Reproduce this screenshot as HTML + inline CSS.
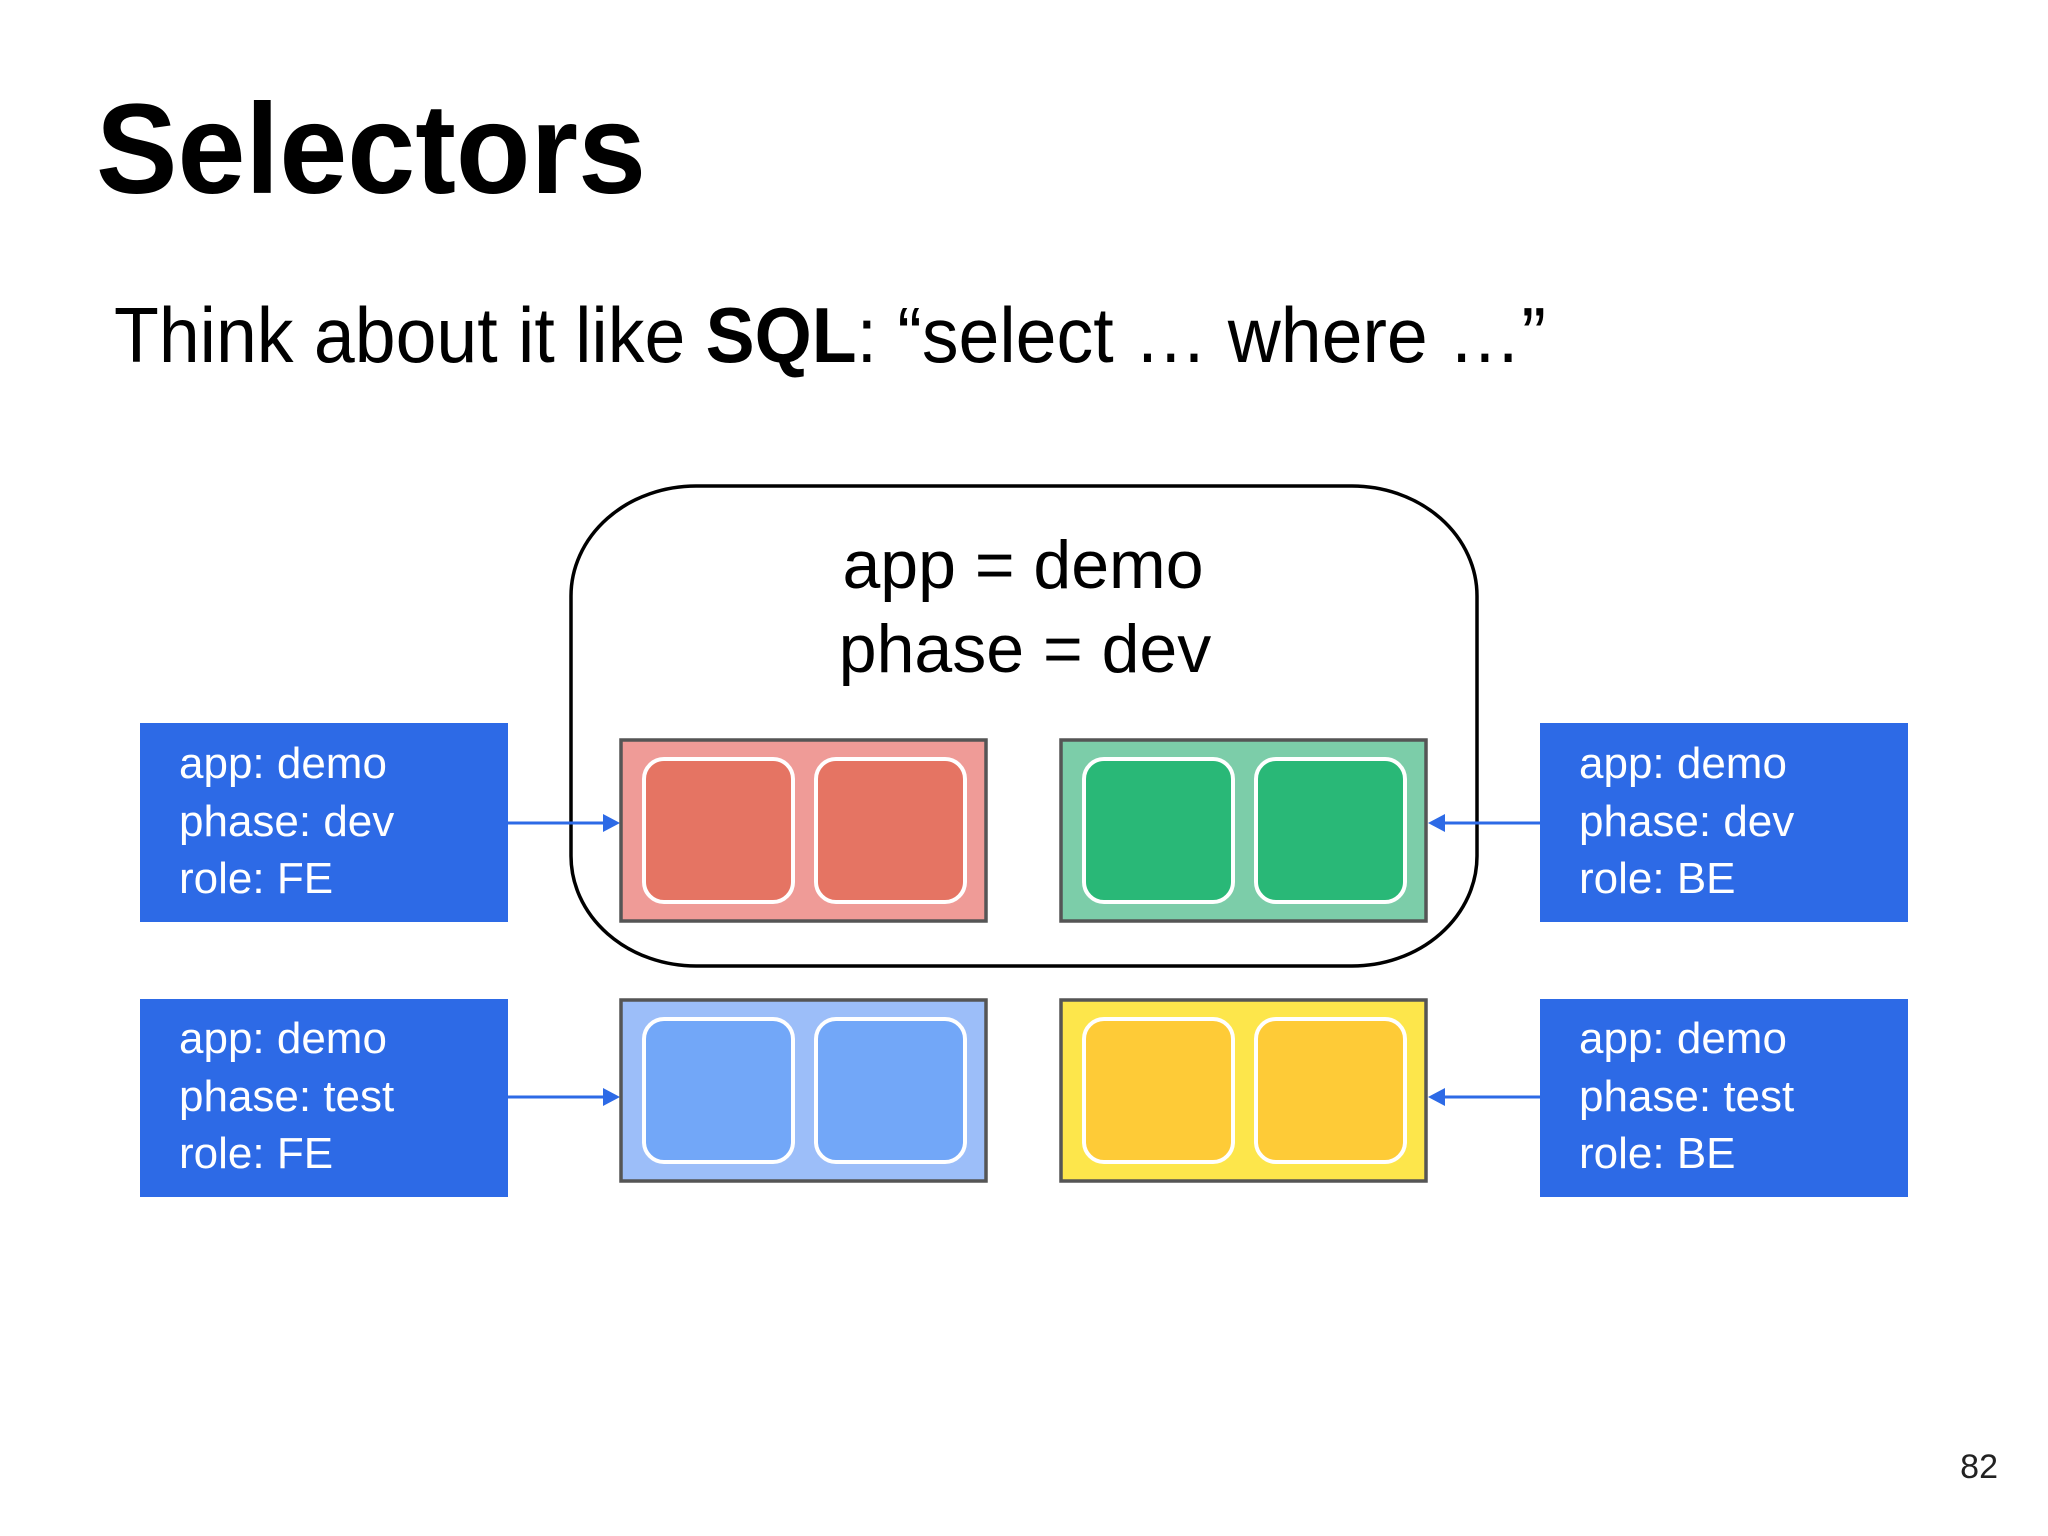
<!DOCTYPE html>
<html><head><meta charset="utf-8"><style>
html,body{margin:0;padding:0;background:#fff;}
svg{display:block}
text{font-family:"Liberation Sans","DejaVu Sans",sans-serif;}
</style></head><body>
<svg width="2048" height="1536" viewBox="0 0 2048 1536" xmlns="http://www.w3.org/2000/svg">
<rect width="2048" height="1536" fill="#fff"/>
<text x="96" y="193" font-size="128" font-weight="bold" fill="#000" textLength="550" lengthAdjust="spacingAndGlyphs">Selectors</text>
<text x="114" y="362" font-size="78" fill="#000" textLength="1432" lengthAdjust="spacingAndGlyphs">Think about it like <tspan font-weight="bold">SQL</tspan>: “select … where …”</text>

<rect x="571" y="486" width="906" height="480" rx="125" ry="110" fill="none" stroke="#000" stroke-width="3.5"/>
<text x="1023" y="588" font-size="68" text-anchor="middle" fill="#000">app = demo</text>
<text x="1025" y="672" font-size="68" text-anchor="middle" fill="#000">phase = dev</text>

<g font-size="44" fill="#fff">
<rect x="140" y="723" width="368" height="199" fill="#2d6ae6"/>
<text x="179" y="778">app: demo</text><text x="179" y="836">phase: dev</text><text x="179" y="893">role: FE</text>
<rect x="1540" y="723" width="368" height="199" fill="#2d6ae6"/>
<text x="1579" y="778">app: demo</text><text x="1579" y="836">phase: dev</text><text x="1579" y="893">role: BE</text>
<rect x="140" y="999" width="368" height="198" fill="#2d6ae6"/>
<text x="179" y="1053">app: demo</text><text x="179" y="1111">phase: test</text><text x="179" y="1168">role: FE</text>
<rect x="1540" y="999" width="368" height="198" fill="#2d6ae6"/>
<text x="1579" y="1053">app: demo</text><text x="1579" y="1111">phase: test</text><text x="1579" y="1168">role: BE</text>
</g>

<g stroke="#2d6ae6" stroke-width="3">
<line x1="508" y1="823" x2="605" y2="823"/><line x1="508" y1="1097" x2="605" y2="1097"/>
<line x1="1540" y1="823" x2="1443" y2="823"/><line x1="1540" y1="1097" x2="1443" y2="1097"/>
</g>
<g fill="#2d6ae6">
<polygon points="620,823 603,814 603,832"/><polygon points="620,1097 603,1088 603,1106"/>
<polygon points="1428,823 1445,814 1445,832"/><polygon points="1428,1097 1445,1088 1445,1106"/>
</g>

<g stroke="#555" stroke-width="3.5">
<rect x="621" y="740" width="365" height="181" fill="#ef9b97"/>
<rect x="1061" y="740" width="365" height="181" fill="#7ccda9"/>
<rect x="621" y="1000" width="365" height="181" fill="#9cbef9"/>
<rect x="1061" y="1000" width="365" height="181" fill="#fde64b"/>
</g>
<g stroke="#fff" stroke-width="4">
<rect x="644" y="759" width="149" height="143" rx="20" fill="#e57463"/>
<rect x="816" y="759" width="149" height="143" rx="20" fill="#e57463"/>
<rect x="1084" y="759" width="149" height="143" rx="20" fill="#29b877"/>
<rect x="1256" y="759" width="149" height="143" rx="20" fill="#29b877"/>
<rect x="644" y="1019" width="149" height="143" rx="20" fill="#72a7f8"/>
<rect x="816" y="1019" width="149" height="143" rx="20" fill="#72a7f8"/>
<rect x="1084" y="1019" width="149" height="143" rx="20" fill="#fecb37"/>
<rect x="1256" y="1019" width="149" height="143" rx="20" fill="#fecb37"/>
</g>

<text x="1998" y="1478" font-size="34" text-anchor="end" fill="#222">82</text>
</svg>
</body></html>
